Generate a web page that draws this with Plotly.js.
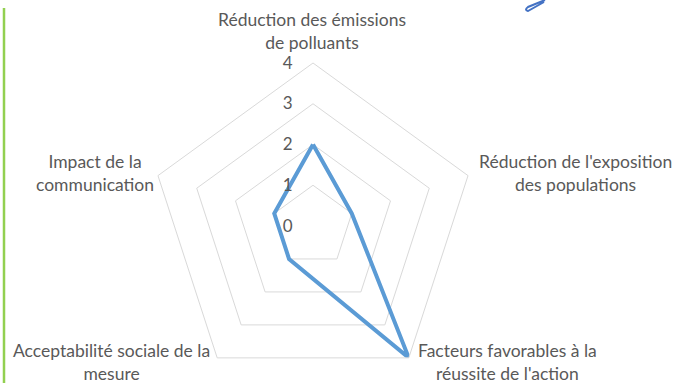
<!DOCTYPE html>
<html>
<head>
<meta charset="utf-8">
<script src="https://cdn.plot.ly/plotly-3.0.1.min.js"></script>
<style>
html,body{margin:0;padding:0;background:#fff;overflow:hidden;}
#chart{width:676px;height:420px;}
</style>
</head>
<body>
<div id="chart"></div>
<script>
const categories = [
  "Réduction des émissions<br>de polluants",
  "Réduction de l'exposition<br>des populations",
  "Facteurs favorables à la<br>réussite de l'action",
  "Acceptabilité sociale de la<br>mesure",
  "Impact de la<br>communication"
];
const values = [2, 1, 4, 1, 1];
const radialTicks = [0, 1, 2, 3, 4];

const W = 676, H = 420;
const cx = 313, cyTop = 226, R = 163;
const cyBottom = H - cyTop;

// label anchor positions (pixels from top-left), one per category
const labelPos = [[312, 31], [575, 173], [508, 362], [111, 362], [95, 173]];

const trace = {
  type: 'scatterpolar',
  mode: 'lines',
  r: values.concat([values[0]]),
  theta: categories.concat([categories[0]]),
  line: {color: '#5b9bd5', width: 4},
  hoverinfo: 'skip'
};

const annotations = categories.map((c, i) => ({
  xref: 'paper', yref: 'paper',
  x: labelPos[i][0] / W, y: 1 - labelPos[i][1] / H,
  xanchor: 'center', yanchor: 'middle',
  text: c, showarrow: false, align: 'center',
  font: {size: 17.5, color: '#595959'}
}));

const layout = {
  width: W, height: H,
  margin: {l: 0, r: 0, t: 0, b: 0},
  paper_bgcolor: '#ffffff',
  showlegend: false,
  font: {family: 'Lato, "Open Sans", sans-serif', color: '#595959', size: 14},
  polar: {
    domain: {x: [(cx - R) / W, (cx + R) / W], y: [(cyBottom - R) / H, (cyBottom + R) / H]},
    bgcolor: 'rgba(0,0,0,0)',
    gridshape: 'linear',
    radialaxis: {
      range: [0, 4],
      tickvals: radialTicks,
      ticktext: radialTicks.map(String),
      angle: 90,
      side: 'counterclockwise',
      showline: false,
      gridcolor: '#d9d9d9',
      gridwidth: 1,
      ticks: 'outside',
      ticklen: 14,
      tickcolor: 'rgba(0,0,0,0)',
      tickfont: {size: 17, color: '#595959'},
      tickangle: 90
    },
    angularaxis: {
      type: 'category',
      categoryarray: categories,
      rotation: 90,
      direction: 'clockwise',
      showgrid: false,
      showline: true,
      showticklabels: false,
      linecolor: '#d9d9d9',
      linewidth: 1,
      ticks: ''
    }
  },
  annotations: annotations,
  shapes: [
    {type: 'line', xref: 'paper', yref: 'paper', x0: 4 / W, x1: 4 / W, y0: 1 - 8 / H, y1: 0,
     line: {color: '#92d050', width: 2.5}},
    {type: 'path', xref: 'paper', yref: 'paper',
     path: 'M ' + (545 / W) + ' ' + (1 - 0 / H) + ' L ' + (528 / W) + ' ' + (1 - 7 / H) +
           ' Q ' + (524 / W) + ' ' + (1 - 10 / H) + ' ' + (528 / W) + ' ' + (1 - 11 / H) +
           ' L ' + (544 / W) + ' ' + (1 - 2 / H),
     line: {color: '#4472c4', width: 2}}
  ]
};

Plotly.newPlot('chart', [trace], layout, {displayModeBar: false, staticPlot: true});
</script>
</body>
</html>
